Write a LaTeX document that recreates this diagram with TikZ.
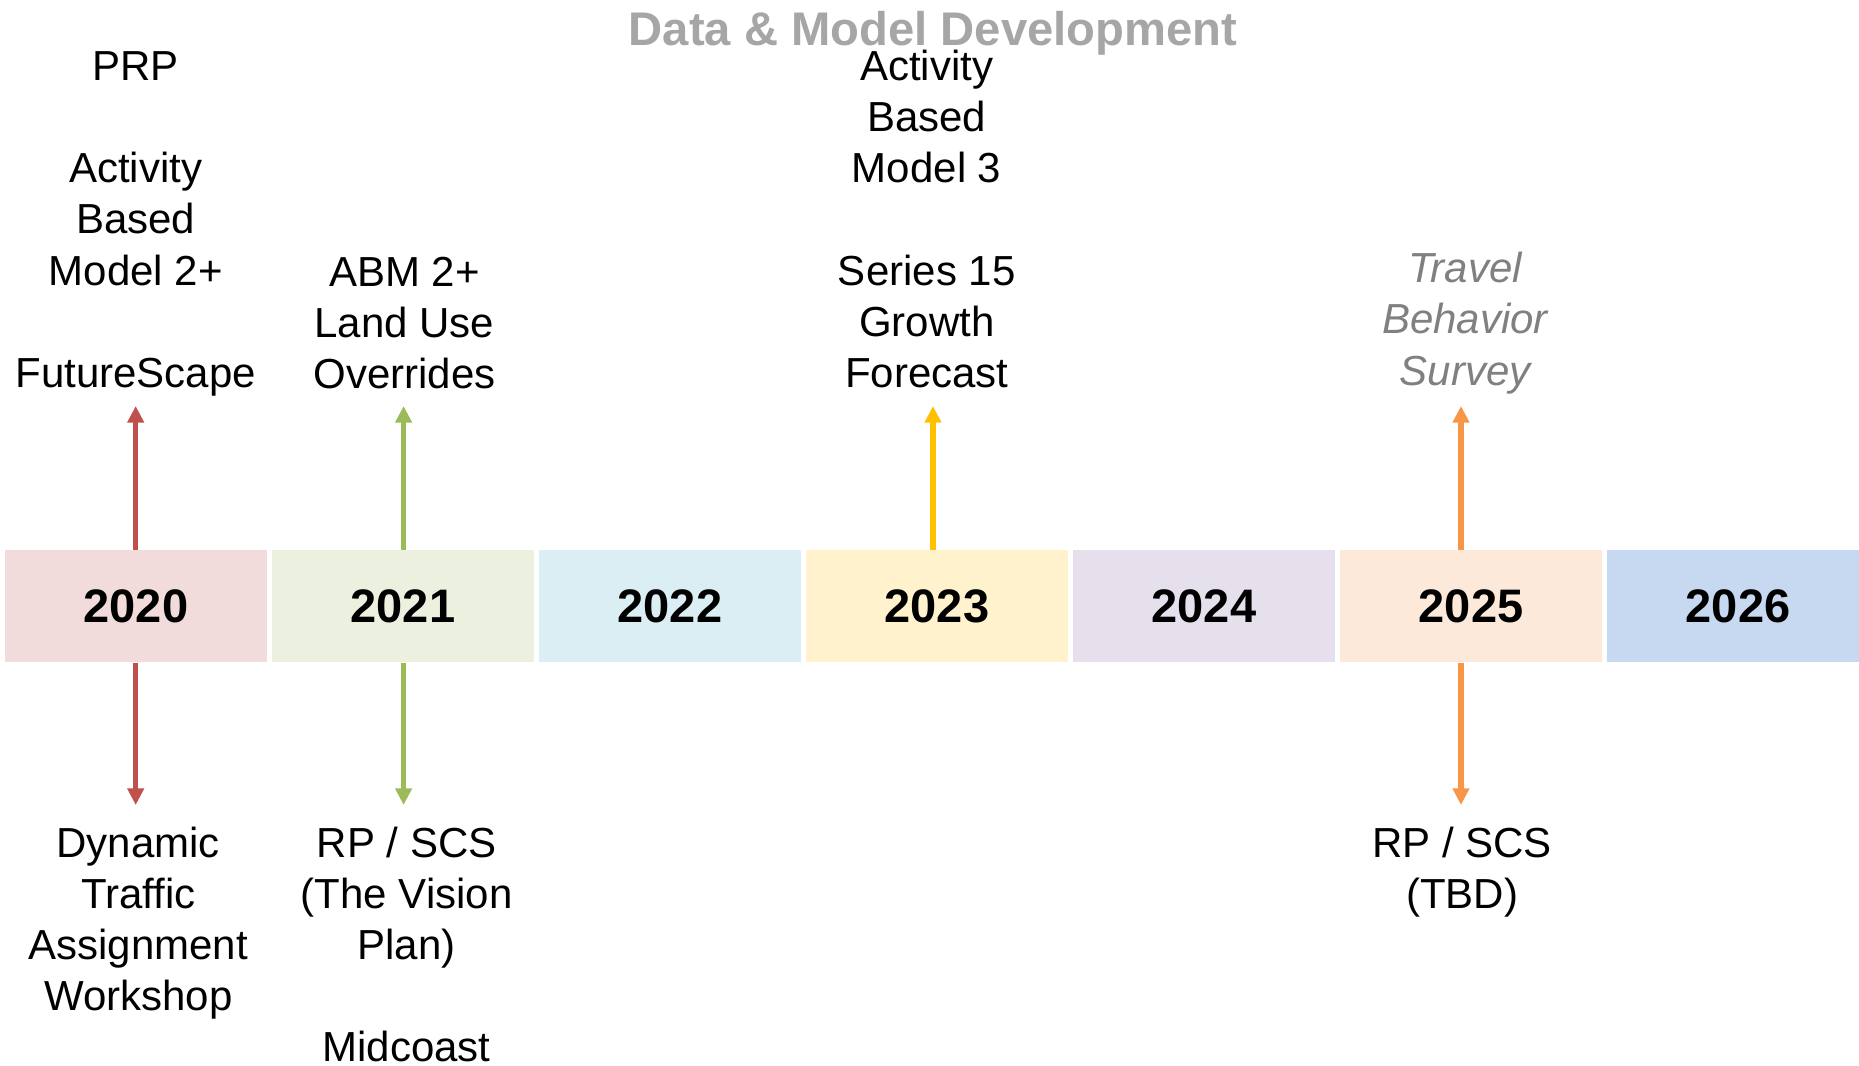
\documentclass[tikz,border=0pt]{standalone}
\usepackage{fontspec}
\setmainfont{Liberation Sans}
\usetikzlibrary{arrows.meta}
\definecolor{c20}{HTML}{F2DCDB}
\definecolor{c21}{HTML}{EBF1DE}
\definecolor{c22}{HTML}{DBEEF4}
\definecolor{c23}{HTML}{FFF2CC}
\definecolor{c24}{HTML}{E5E0EC}
\definecolor{c25}{HTML}{FDE9D9}
\definecolor{c26}{HTML}{C6D9F1}
\definecolor{ared}{HTML}{C0504D}
\definecolor{agreen}{HTML}{9BBB59}
\definecolor{agold}{HTML}{FFC000}
\definecolor{aorange}{HTML}{F79646}
\definecolor{titlegray}{HTML}{A6A6A6}
\definecolor{italgray}{HTML}{808080}
\begin{document}
\begin{tikzpicture}[x=0.5pt,y=-0.5pt,
  yearbox/.style={draw=none, minimum width=131pt, minimum height=55.85pt, inner sep=0pt,
    anchor=north west, font=\fontsize{23.5}{28}\selectfont\bfseries},
  lbl/.style={align=center, inner sep=0pt, anchor=base, font=\fontsize{21}{25.6}\selectfont},
  arr/.style={line width=2.65pt, -{Triangle[width=8pt,length=8.3pt]}}]
\useasboundingbox (0,0) rectangle (1859,1066);
% title
\node[anchor=base, inner sep=0pt, text=titlegray, font=\fontsize{23.6}{28}\selectfont\bfseries] (title) at (933,45) {Data \& Model Development};
% year boxes
\node[yearbox, fill=c20] (y2020) at (4.6,550) {2020};
\node[yearbox, fill=c21] (y2021) at (271.6,550) {2021};
\node[yearbox, fill=c22] (y2022) at (538.6,550) {2022};
\node[yearbox, fill=c23] (y2023) at (805.6,550) {2023};
\node[yearbox, fill=c24] (y2024) at (1072.6,550) {2024};
\node[yearbox, fill=c25] (y2025) at (1339.6,550) {2025};
\node[yearbox, fill=c26] (y2026) at (1606.6,550) {2026};
% arrow tips
\coordinate (u20) at (135.7,406);
\coordinate (d20) at (135.7,805);
\coordinate (u21) at (403.6,406);
\coordinate (d21) at (403.6,805);
\coordinate (u23) at (933,406);
\coordinate (u25) at (1461,406);
\coordinate (d25) at (1461,805);
\draw[arr, ared] (u20 |- y2020.north) -- (u20);
\draw[arr, ared] (d20 |- y2020.south) -- (d20);
\draw[arr, agreen] (u21 |- y2021.north) -- (u21);
\draw[arr, agreen] (d21 |- y2021.south) -- (d21);
\draw[arr, agold] (u23 |- y2023.north) -- (u23);
\draw[arr, aorange] (u25 |- y2025.north) -- (u25);
\draw[arr, aorange] (d25 |- y2025.south) -- (d25);
% texts above (anchor = baseline of last line)
\node[lbl] (t20) at (135.7,387.5) {PRP\\ \\Activity\\Based\\Model 2+\\ \\FutureScape};
\node[lbl] (t21) at (404.5,388.5) {ABM 2+\\Land Use\\Overrides};
\node[lbl] (t23) at (926.7,387.5) {Activity\\Based\\Model 3\\ \\Series 15\\Growth\\Forecast};
\node[lbl, text=italgray, font=\fontsize{21}{25.6}\selectfont\itshape] (t25) at (1465,385) {Travel\\Behavior\\Survey};
% texts below
\node[lbl] (b20) at (138.3,1010.6) {Dynamic\\Traffic\\Assignment\\Workshop};
\node[lbl] (b21) at (406.6,1061.8) {RP / SCS\\(The Vision\\Plan)\\ \\Midcoast};
\node[lbl] (b25) at (1462,908.2) {RP / SCS\\(TBD)};
\end{tikzpicture}
\end{document}
